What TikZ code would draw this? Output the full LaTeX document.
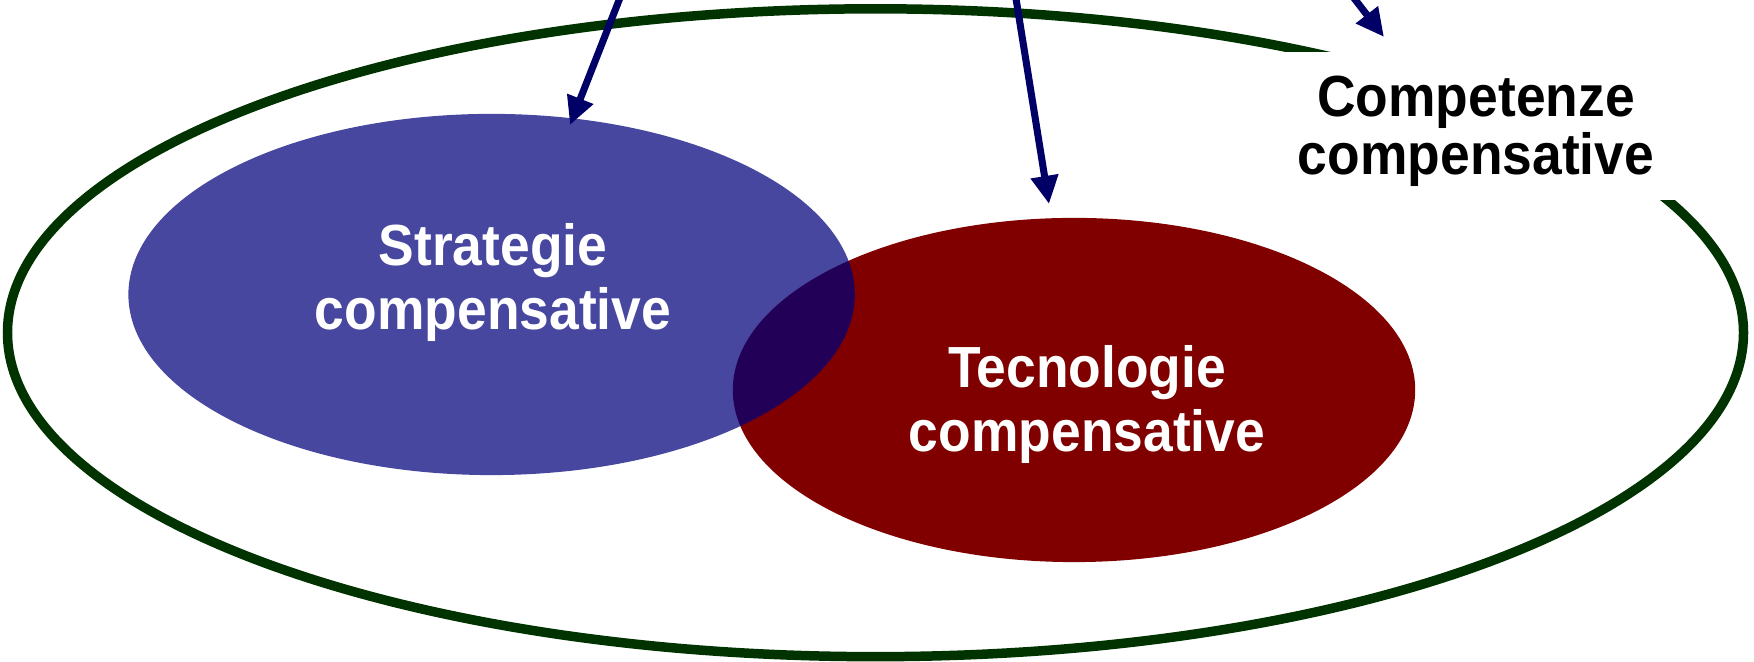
\documentclass[tikz,border=0pt]{standalone}
\usepackage{fontspec}
\newfontfamily\labfont{Liberation Sans}[FakeStretch=0.92]
\usetikzlibrary{shapes.geometric,arrows.meta}
\definecolor{outergreen}{RGB}{0,51,0}
\definecolor{arrownavy}{RGB}{0,0,102}
\definecolor{techred}{RGB}{128,0,0}
\definecolor{stratblue}{RGB}{0,0,122}
\begin{document}
\begin{tikzpicture}[x=0.01cm,y=-0.01cm,
  lbl/.style={font=\labfont\bfseries\fontsize{16.5pt}{18.2pt}\selectfont, align=center, inner sep=0pt, anchor=base},
  arr/.style={draw=arrownavy, line width=2pt, -{Triangle[length=8pt,width=7.5pt]}},
  blob/.style={ellipse, inner sep=0pt, outer sep=0pt, draw=none}]
\useasboundingbox (0,0) rectangle (1754,662);
\clip (0,0) rectangle (1754,662);
% outer ellipse
\node[blob, draw=outergreen, line width=2.7pt, minimum width=17.35cm, minimum height=6.475cm] (outer) at (875.5,332.75) {};
% red ellipse
\node[blob, fill=techred, minimum width=6.82cm, minimum height=3.44cm] (tech) at (1074,390) {};
% blue ellipse
\node[blob, fill=stratblue, fill opacity=0.72, minimum width=7.26cm, minimum height=3.61cm] (strat) at (491.6,294.5) {};
% white mask behind the outer label
\node[fill=white, inner sep=0pt, minimum width=4.05cm, minimum height=1.48cm] (mask) at (1482.5,126) {};
% labels (base anchor = baseline of the last line)
\node[lbl, text=white] (strattxt) at (493,330) {Strategie\\compensative};
\node[lbl, text=white] (techtxt) at (1087,452) {Tecnologie\\compensative};
\node[lbl, text=black, font=\labfont\bfseries\fontsize{16.5pt}{16.5pt}\selectfont] (comptxt) at (1476,175) {Competenze\\compensative};
% arrows
\coordinate (a1s) at (627,-20); \coordinate (a1t) at (570,125);
\coordinate (a2s) at (1013,-20); \coordinate (a2t) at (1049,204);
\coordinate (a3s) at (1340,-20); \coordinate (a3t) at (1384,37);
\draw[arr] (a1s) -- (a1t);
\draw[arr] (a2s) -- (a2t);
\draw[arr] (a3s) -- (a3t);
\end{tikzpicture}
\end{document}
